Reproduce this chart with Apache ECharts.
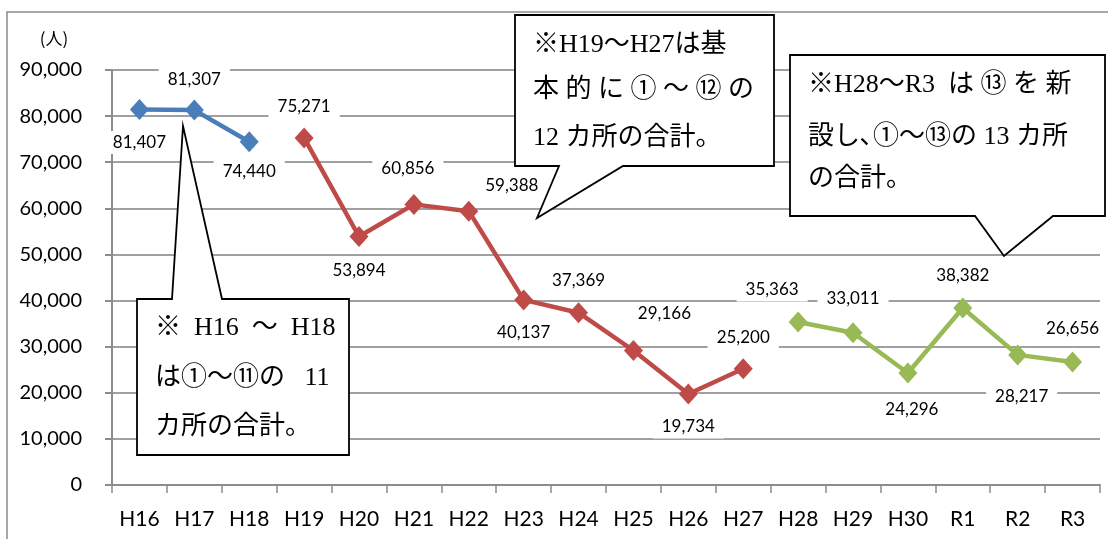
<!DOCTYPE html>
<html>
<head>
<meta charset="utf-8">
<script src="https://cdn.jsdelivr.net/npm/echarts@6/dist/echarts.min.js"></script>
<style>
    html,body{margin:0;padding:0;background:#fff;}
    #chart{width:1108px;height:539px;}
</style>
</head>
<body>
<div id="chart"></div>
<script>
// X轴
var categories = ['H16','H17','H18','H19','H20','H21','H22','H23','H24','H25','H26','H27','H28','H29','H30','R1','R2','R3'];
// 3つの期間
var blueData = [81407, 81307, 74440];                                             // H16~H18
var redData = [75271, 53894, 60856, 59388, 40137, 37369, 29166, 19734, 25200];     // H19~H27
var greenData = [35363, 33011, 24296, 38382, 28217, 26656];                        // H28~R3
var yTicks = [0, 10000, 20000, 30000, 40000, 50000, 60000, 70000, 80000, 90000];

// ラベルのずらし量 (px)
var labelOffsets = [
    [0, 33], [0, -31], [0, 30],
    [0, -31], [0, 34], [-6, -36], [43, -26], [0, 33], [0, -32], [31, -37], [0, 33], [0, -31],
    [-26, -32], [0, -34], [4, 37], [0, -33], [4, 42], [0, -34]
];

var fmt = function (v) { return Number(v).toLocaleString('en-US'); };

function buildSeriesData(values, start) {
    var arr = [];
    for (var i = 0; i < categories.length; i++) {
        var k = i - start;
        if (k >= 0 && k < values.length) {
            arr.push({value: values[k], label: {offset: labelOffsets[i]}});
        } else {
            arr.push(null);
        }
    }
    return arr;
}

function lineSeries(name, color, data) {
    return {
        name: name,
        type: 'line',
        data: data,
        symbol: 'diamond',
        symbolSize: [19, 21],
        connectNulls: false,
        lineStyle: {color: color, width: 4.5},
        itemStyle: {color: color},
        label: {
            show: true,
            position: 'inside',
            formatter: function (p) { return fmt(p.value); },
            fontFamily: 'Lato',
            fontSize: 17,
            color: '#000',
            backgroundColor: '#fff',
            padding: [3, 9]
        },
        z: 3
    };
}

// 吹き出し
function callout(points, lines, fontSize) {
    var els = [{
        type: 'polygon',
        shape: {points: points},
        style: {fill: '#fff', stroke: '#000', lineWidth: 1.8},
        z: 100
    }];
    lines.forEach(function (l) {
        els.push({
            type: 'text',
            x: l[1], y: l[2],
            style: {
                text: l[0],
                fill: '#000',
                font: fontSize + "px 'Liberation Serif', 'Noto Sans CJK JP', serif",
                verticalAlign: 'middle'
            },
            z: 101
        });
    });
    return els;
}

function initEcharts(echartId) {
    var myChart = echarts.init(document.getElementById(echartId));
    var graphics = [{
        type: 'rect',
        shape: {x: 7, y: 12, width: 1300, height: 700},
        style: {fill: 'none', stroke: '#8c8c8c', lineWidth: 1.5},
        z: 0
    }, {
        type: 'text',
        x: 54, y: 39,
        style: {text: '(人)', font: "17px 'Noto Sans CJK JP'", fill: '#000', align: 'center', verticalAlign: 'middle'}
    }];
    graphics = graphics.concat(callout(
        [[137,299],[172,299],[183,126],[222,299],[349,299],[349,455],[137,455]],
        [['※  H16  ～  H18', 155, 328], ['は①～⑪の   11', 155, 378], ['カ所の合計。', 155, 427]], 26));
    graphics = graphics.concat(callout(
        [[515,15],[774,15],[774,166],[623,166],[537,218],[559,166],[515,166]],
        [['※H19～H27は基', 533, 45], ['本 的 に ① ～ ⑫ の', 533, 90], ['12 カ所の合計。', 533, 138]], 26));
    graphics = graphics.concat(callout(
        [[790,55],[1105,55],[1105,216],[1053,216],[1004,256],[975,216],[790,216]],
        [['※H28～R3  は ⑬ を 新', 808, 85], ['設し､①～⑬の 13 カ所', 808, 137], ['の合計。', 808, 179]], 26));

    var option = {
        animation: false,
        grid: {left: 112, top: 70, width: 988, height: 415, containLabel: false},
        xAxis: {
            type: 'category',
            data: categories,
            axisLine: {lineStyle: {color: '#8c8c8c', width: 2}},
            axisTick: {show: true, length: 8, lineStyle: {color: '#8c8c8c', width: 1.5}},
            axisLabel: {margin: 24, fontFamily: 'Lato', fontSize: 21, color: '#000'}
        },
        yAxis: {
            type: 'value',
            min: yTicks[0],
            max: yTicks[yTicks.length - 1],
            interval: 10000,
            axisLine: {show: true, lineStyle: {color: '#8c8c8c', width: 2}},
            axisTick: {show: true, length: 7, lineStyle: {color: '#8c8c8c', width: 2}},
            splitLine: {lineStyle: {color: '#a0a0a0', width: 2}},
            axisLabel: {margin: 30, fontFamily: 'Lato', fontSize: 20, color: '#000', formatter: fmt}
        },
        graphic: graphics,
        series: [
            lineSeries('H16-H18', '#4A7EBB', buildSeriesData(blueData, 0)),
            lineSeries('H19-H27', '#BE4B48', buildSeriesData(redData, 3)),
            lineSeries('H28-R3', '#98B954', buildSeriesData(greenData, 12))
        ]
    };
    myChart.setOption(option);
}

initEcharts('chart');
</script>
</body>
</html>
